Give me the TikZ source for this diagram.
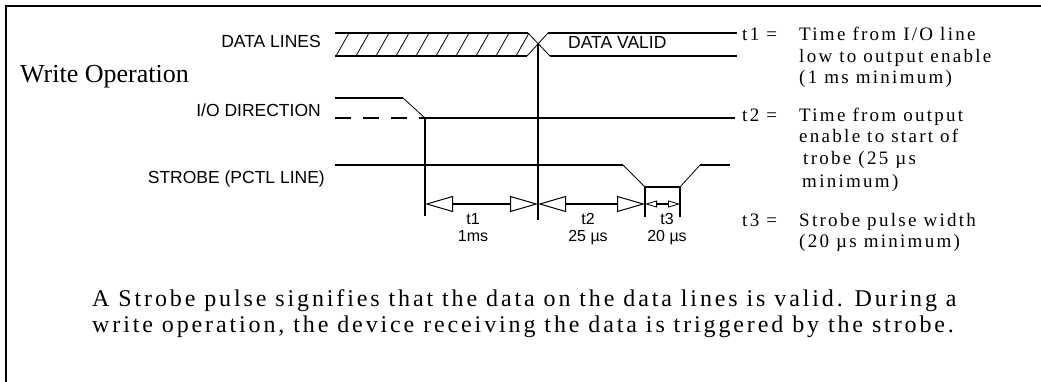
\documentclass[tikz,border=0pt]{standalone}
\usepackage{fontspec}
\setmainfont{Liberation Serif}
\setsansfont{Liberation Sans}
\newfontfamily\spacedserif[LetterSpace=12]{Liberation Serif}
\newfontfamily\parafont[LetterSpace=12]{Liberation Serif}
\usetikzlibrary{arrows.meta}

\begin{document}
\begin{tikzpicture}[x=1pt,y=-1pt,
  level/.style={line width=2pt},
  slope/.style={line width=0.8pt},
  siglabel/.style={anchor=base east,inner sep=0pt,font=\sffamily\fontsize{17.5}{20}\selectfont},
  timelabel/.style={anchor=base,inner sep=0pt,font=\sffamily\fontsize{16}{18}\selectfont},
  defkey/.style={anchor=base west,inner sep=0pt,font=\spacedserif\fontsize{19}{21.5}\selectfont},
  span/.style={line width=2pt,{Triangle[open,length=28pt,width=16pt,line width=1pt]}-{Triangle[open,length=28pt,width=16pt,line width=1pt]}},
  shortspan/.style={line width=1.2pt,{Triangle[open,length=12pt,width=7pt,line width=0.8pt]}-{Triangle[open,length=12pt,width=7pt,line width=0.8pt]}}]

  \useasboundingbox (0,0) rectangle (1041,382);

  % frame, top and left only
  \coordinate (fTR) at (1041,6);
  \coordinate (fTL) at (6,6);
  \coordinate (fBL) at (6,382);
  \draw[line width=2.5pt] (fTR) -- (fTL) -- (fBL);

  \node[siglabel] (lData) at (321,48) {DATA LINES};
  \node[siglabel] (lIO) at (321,116.5) {I/O DIRECTION};
  \node[siglabel] (lStrobe) at (325,184) {STROBE (PCTL LINE)};
  \node[anchor=base west,inner sep=0pt,font=\fontsize{26}{28}\selectfont] (lWrite) at (20,83) {Write Operation};

  % data lines
  \coordinate (dA) at (335,33);
  \coordinate (dB) at (528,33);
  \coordinate (dC) at (335,56);
  \coordinate (dD) at (527,56);
  \coordinate (dX) at (538,44.5);
  \coordinate (dE) at (548,33);
  \coordinate (dF) at (550,56);
  \coordinate (dG) at (737,33);
  \coordinate (dH) at (737,56);
  \begin{scope}
    \clip (dA) -- (dB) -- (dX) -- (dD) -- (dC) -- cycle;
    \foreach \x in {336,356,...,536}
      \draw[slope] (\x,56) -- (\x+13,33);
  \end{scope}
  \draw[level] (dA) -- (dB);
  \draw[level] (dC) -- (dD);
  \draw[slope] (dB) -- (dF);
  \draw[slope] (dD) -- (dE);
  \draw[level] (dE) -- (dG);
  \draw[level] (dF) -- (dH);
  \node[anchor=base west,inner sep=0pt,font=\sffamily\fontsize{17.5}{20}\selectfont] (lValid) at (568,49) {DATA VALID};

  % I/O direction
  \coordinate (ioA) at (335,98);
  \coordinate (ioB) at (403,98);
  \coordinate (ioC) at (335,118);
  \coordinate (ioD) at (425,118);
  \coordinate (ioE) at (735,118);
  \draw[level] (ioA) -- (ioB);
  \draw[slope] (ioB) -- (ioD);
  \draw[level,dash pattern=on 16pt off 12pt] (ioC) -- (ioD);
  \draw[level] (ioD) -- (ioE);

  % strobe
  \coordinate (sA) at (335,165);
  \coordinate (sB) at (623,165);
  \coordinate (sC) at (645,187);
  \coordinate (sD) at (680,187);
  \coordinate (sE) at (700,165);
  \coordinate (sF) at (730,165);
  \draw[level] (sA) -- (sB);
  \draw[slope] (sB) -- (sC);
  \draw[level] (sC) -- (sD);
  \draw[slope] (sD) -- (sE);
  \draw[level] (sE) -- (sF);

  % markers
  \coordinate (m1) at (425,216);
  \coordinate (m2) at (538,220);
  \coordinate (m3) at (645,217);
  \coordinate (m4) at (680,217);
  \draw[level] (ioD) -- (m1);
  \draw[level] (dX) -- (m2);
  \draw[level] (sC) -- (m3);
  \draw[level] (sD) -- (m4);

  % timing spans
  \coordinate (a1) at (425,204);
  \coordinate (a2) at (538,204);
  \coordinate (a3) at (645,204);
  \coordinate (a4) at (680,204);
  \draw[span] (a1) -- (a2);
  \draw[span] (a2) -- (a3);
  \draw[shortspan] (a3) -- (a4);

  \node[timelabel] (t1n) at (473,224) {t1};
  \node[timelabel] (t1v) at (473,241) {1ms};
  \node[timelabel] (t2n) at (588,224) {t2};
  \node[timelabel] (t2v) at (588,241) {25 µs};
  \node[timelabel] (t3n) at (667,224) {t3};
  \node[timelabel] (t3v) at (667,241) {20 µs};

  % definitions
  \node[defkey] (d1k) at (742,41) {t1 =};
  \node[defkey] (d1t) at (799,41) {\begin{tabular}[t]{@{}l@{}}Time from I/O line\\low to output enable\\(1 ms minimum)\end{tabular}};
  \node[defkey] (d2k) at (742,121.5) {t2 =};
  \node[defkey] (d2t) at (799,121.5) {\begin{tabular}[t]{@{}l@{}}Time from output\\enable to start of\\\hspace{4pt}trobe (25 µs\\[2pt]\hspace{3pt}minimum)\end{tabular}};
  \node[defkey] (d3k) at (742,226) {t3 =};
  \node[defkey] (d3t) at (799,226) {\begin{tabular}[t]{@{}l@{}}Strobe pulse width\\(20 µs minimum)\end{tabular}};

  \node[anchor=base west,inner sep=0pt,font=\parafont\fontsize{24}{26.5}\selectfont] (note) at (92,306)
    {\begin{tabular}[t]{@{}l@{}}A Strobe pulse signifies that the data on the data lines is valid. During a\\write operation, the device receiving the data is triggered by the strobe.\end{tabular}};

\end{tikzpicture}
\end{document}
